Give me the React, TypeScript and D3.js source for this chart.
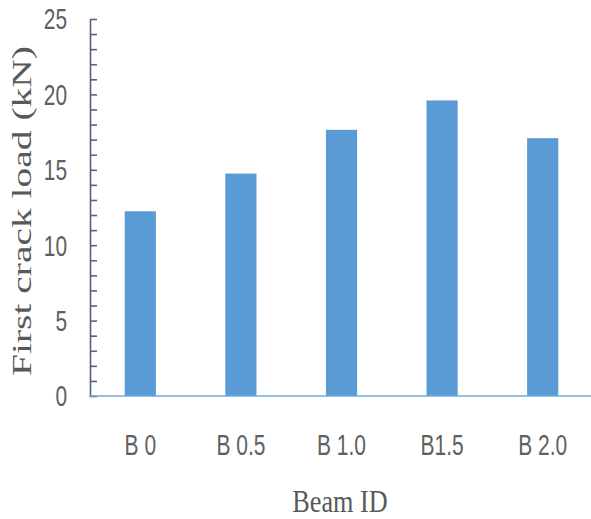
import React, { useEffect, useRef } from 'react';
import * as d3 from 'd3';

const beams = ['B 0', 'B 0.5', 'B 1.0', 'B1.5', 'B 2.0'];
const firstCrackLoad = [12.25, 14.75, 17.65, 19.6, 17.1];
const majorTicks = [0, 5, 10, 15, 20, 25];
const minorTicks = d3.range(0, 26);

const W = 591;
const H = 519;

const App: React.FC = () => {
  const ref = useRef<SVGSVGElement>(null);

  useEffect(() => {
    document.body.style.margin = '0';
    if (!ref.current) return;
    const svg = d3.select(ref.current);
    svg.selectAll('*').remove();

    const x = d3.scaleBand<string>()
      .domain(beams)
      .range([90, 593])
      .paddingInner(0.69)
      .paddingOuter(0.345);

    const y = d3.scaleLinear().domain([0, 25]).range([396, 19]);

    // bars
    svg.append('g')
      .selectAll('rect')
      .data(firstCrackLoad)
      .enter()
      .append('rect')
      .attr('x', (d, i) => x(beams[i]) ?? 0)
      .attr('y', d => y(d))
      .attr('width', x.bandwidth())
      .attr('height', d => y(0) - y(d))
      .attr('fill', '#5B9BD5');

    // y axis with a tick every unit, pointing inward
    const yAxis = svg.append('g')
      .attr('transform', 'translate(90,0)')
      .call(d3.axisRight(y).tickValues(minorTicks).tickSize(7).tickSizeOuter(0).tickFormat(() => ''));
    yAxis.select('.domain').attr('stroke', '#56627a').attr('stroke-width', 1.6);
    yAxis.selectAll('.tick line').attr('stroke', '#56627a').attr('stroke-width', 1.6);

    // x axis line
    svg.append('line')
      .attr('x1', 89).attr('x2', W)
      .attr('y1', y(0)).attr('y2', y(0))
      .attr('stroke', '#6FA8DC')
      .attr('stroke-width', 1.6);

    // y tick labels
    svg.append('g')
      .selectAll('text')
      .data(majorTicks)
      .enter()
      .append('text')
      .attr('transform', d => `translate(67,${y(d)}) scale(0.72,1)`)
      .attr('dy', '0.36em')
      .attr('text-anchor', 'end')
      .attr('font-family', '"Liberation Sans", Arial, sans-serif')
      .attr('font-size', 29)
      .attr('fill', '#606060')
      .text(d => d);

    // x tick labels
    svg.append('g')
      .selectAll('text')
      .data(beams)
      .enter()
      .append('text')
      .attr('transform', d => `translate(${(x(d) ?? 0) + x.bandwidth() / 2},455) scale(0.7,1)`)
      .attr('text-anchor', 'middle')
      .attr('font-family', '"Liberation Sans", Arial, sans-serif')
      .attr('font-size', 30)
      .attr('fill', '#606060')
      .text(d => d);

    // axis titles
    svg.append('text')
      .attr('transform', 'translate(340,512) scale(0.82,1)')
      .attr('text-anchor', 'middle')
      .attr('font-family', '"Liberation Serif", "Times New Roman", serif')
      .attr('font-size', 32)
      .attr('fill', '#595959')
      .text('Beam ID');

    svg.append('text')
      .attr('transform', 'translate(31,211) scale(0.7,1) rotate(-90)')
      .attr('text-anchor', 'middle')
      .attr('font-family', '"Liberation Serif", "Times New Roman", serif')
      .attr('font-size', 39.5)
      .attr('fill', '#595959')
      .text('First crack load (kN)');
  }, []);

  return <svg ref={ref} width={W} height={H} style={{ display: 'block', background: '#fff' }} />;
};

export default App;
